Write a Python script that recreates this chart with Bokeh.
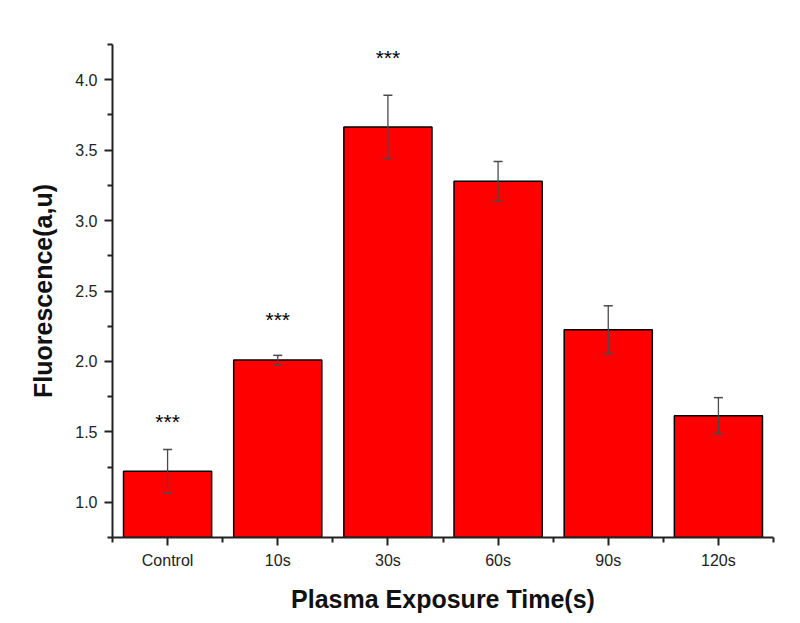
from bokeh.plotting import figure
from bokeh.models import ColumnDataSource, FixedTicker, Whisker, NumeralTickFormatter, Range1d
from bokeh.embed import file_html
from bokeh.resources import INLINE
from bokeh.core.properties import value

categories = ["Control", "10s", "30s", "60s", "90s", "120s"]
fluorescence = [1.22, 2.01, 3.665, 3.28, 2.225, 1.615]
errors = [0.155, 0.033, 0.225, 0.14, 0.17, 0.128]
significance = ["***", "***", "***", "", "", ""]
sig_y = [1.57, 2.30, 4.16, 0, 0, 0]

y_ticks = [1.0, 1.5, 2.0, 2.5, 3.0, 3.5, 4.0]
y_minor = [0.75, 1.25, 1.75, 2.25, 2.75, 3.25, 3.75, 4.25]

xs = list(range(1, len(categories) + 1))
src = ColumnDataSource(dict(
    x=xs, top=fluorescence,
    upper=[v + e for v, e in zip(fluorescence, errors)],
    lower=[v - e for v, e in zip(fluorescence, errors)],
))
sig_src = ColumnDataSource(dict(
    x=[x for x, s in zip(xs, significance) if s],
    y=[y for y, s in zip(sig_y, significance) if s],
    t=[s for s in significance if s],
))

p = figure(width=784, height=615, output_backend="svg", toolbar_location=None,
           x_range=Range1d(0.5, len(categories) + 0.5), y_range=Range1d(0.75, 4.25),
           min_border_left=112, min_border_right=11, min_border_top=44, min_border_bottom=78)
p.outline_line_color = None
p.grid.visible = False
p.background_fill_color = "white"

p.vbar(x="x", top="top", bottom=0, width=0.8, source=src,
       fill_color="#ff0000", line_color="black", line_width=1.5)

w = Whisker(source=src, base="x", upper="upper", lower="lower",
            line_color="#4a4a4a", line_width=1.3, level="overlay")
w.upper_head.size = 9
w.lower_head.size = 9
w.upper_head.line_color = "#4a4a4a"
w.lower_head.line_color = "#4a4a4a"
w.upper_head.line_width = 1.5
w.lower_head.line_width = 1.5
p.add_layout(w)

p.text(x="x", y="y", text="t", source=sig_src, text_align="center",
       text_baseline="middle", text_font=value("Liberation Sans"),
       text_font_size="21px", text_color="black")

font = "Liberation Sans"
p.xaxis.ticker = FixedTicker(ticks=xs, minor_ticks=[x - 0.5 for x in xs] + [xs[-1] + 0.5])
p.xaxis.major_label_overrides = {x: c for x, c in zip(xs, categories)}
p.yaxis.ticker = FixedTicker(ticks=y_ticks, minor_ticks=y_minor)
p.yaxis.formatter = NumeralTickFormatter(format="0.0")

for ax in (p.xaxis[0], p.yaxis[0]):
    ax.axis_line_width = 2
    ax.axis_line_color = "#222222"
    ax.major_tick_line_width = 2
    ax.minor_tick_line_width = 2
    ax.major_tick_line_color = "#222222"
    ax.minor_tick_line_color = "#222222"
    ax.major_tick_out = 8
    ax.major_tick_in = 0
    ax.minor_tick_out = 5
    ax.minor_tick_in = 0
    ax.major_label_text_font = font
    ax.major_label_text_font_size = "16px"
    ax.major_label_text_color = "#222222"
    ax.axis_label_text_font = font
    ax.axis_label_text_font_style = "bold"
    ax.axis_label_text_font_size = "25px"
    ax.axis_label_text_color = "#111111"

p.xaxis.axis_label = "Plasma Exposure Time(s)"
p.yaxis.axis_label = "Fluorescence(a,u)"
p.xaxis.major_label_standoff = 6
p.yaxis.major_label_standoff = 7
p.xaxis.axis_label_standoff = 13
p.yaxis.axis_label_standoff = 15

open("out.html", "w").write(file_html(p, INLINE))
